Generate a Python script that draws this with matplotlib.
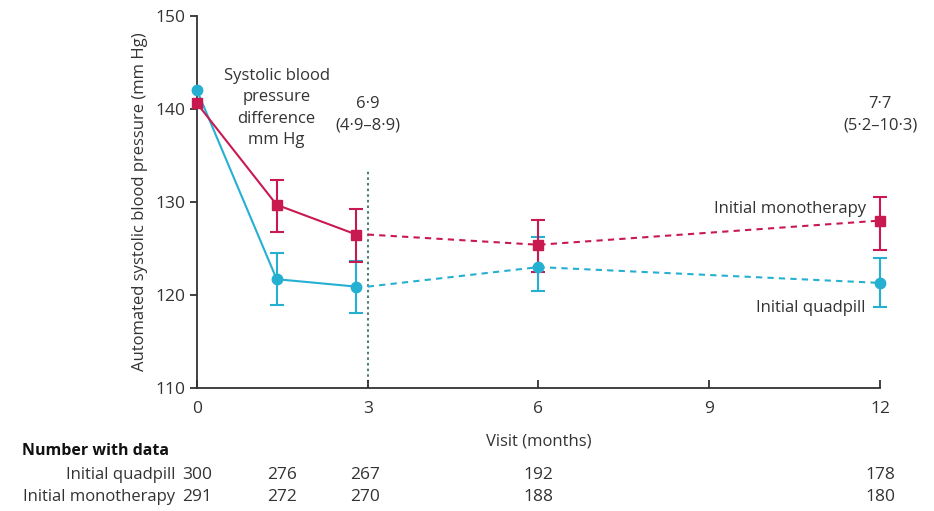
import matplotlib
matplotlib.use("Agg")
import matplotlib.pyplot as plt

plt.rcParams["font.family"] = ["Open Sans", "DejaVu Sans"]

# visit times (months) and values
visit = [0, 1.4, 2.8, 6, 12]
quad_mean = [142.0, 121.7, 120.9, 123.0, 121.3]
quad_lo = [142.0, 118.9, 118.1, 120.4, 118.7]
quad_hi = [142.0, 124.5, 123.7, 126.2, 124.0]
mono_mean = [140.6, 129.7, 126.5, 125.4, 128.0]
mono_lo = [140.6, 126.8, 123.5, 122.5, 124.8]
mono_hi = [140.6, 132.4, 129.2, 128.1, 130.5]

# number with data table
count_x = [0, 1.5, 2.95, 6, 12]
quad_n = [300, 276, 267, 192, 178]
mono_n = [291, 272, 270, 188, 180]

red = "#c81a50"
cyan = "#25b0d2"
txt = "#333333"

fig = plt.figure(figsize=(9.34, 5.11), dpi=100)
ax = fig.add_axes([0.2109, 0.2407, 0.7313, 0.728])


def draw(mean, lo, hi, color, marker, ms):
    yerr = [[m - l for m, l in zip(mean, lo)], [h - m for m, h in zip(mean, hi)]]
    # solid part up to 3 months
    ax.plot(visit[:3], mean[:3], color=color, lw=1.5, zorder=3)
    # dashed continuation from the 3-month line
    ax.plot([3] + visit[3:], [mean[2]] + mean[3:], color=color, lw=1.5,
            ls=(0, (3, 2.5)), zorder=2)
    ax.errorbar(visit[1:], mean[1:], yerr=[yerr[0][1:], yerr[1][1:]], fmt="none",
                ecolor=color, elinewidth=1.5, capsize=5, capthick=1.5, zorder=3)
    ax.plot(visit, mean, ls="none", marker=marker, ms=ms, color=color, zorder=4)


draw(quad_mean, quad_lo, quad_hi, cyan, "o", 7.5)
draw(mono_mean, mono_lo, mono_hi, red, "s", 7.5)

ax.plot([3, 3], [110, 133.5], color="#4d7e80", lw=1.5, ls=(0, (1.2, 1.5)), zorder=1)

ax.set_xlim(0, 12)
ax.set_ylim(110, 150)
ax.set_xticks([0, 3, 6, 9, 12])
ax.set_yticks([110, 120, 130, 140, 150])
ax.spines["top"].set_visible(False)
ax.spines["right"].set_visible(False)
ax.spines["left"].set_color(txt)
ax.spines["bottom"].set_color(txt)
ax.spines["left"].set_linewidth(1.3)
ax.spines["bottom"].set_linewidth(1.3)
ax.tick_params(axis="x", direction="in", length=6, width=1.3, colors=txt,
               labelsize=12.5, pad=9)
ax.tick_params(axis="y", direction="out", length=5, width=1.3, colors=txt,
               labelsize=12.5, pad=3)
for art in ax.lines + ax.collections:
    art.set_clip_on(False)

ax.set_ylabel("Automated systolic blood pressure (mm Hg)", fontsize=12, color=txt,
              labelpad=6)
ax.set_xlabel("Visit (months)", fontsize=12, color=txt, labelpad=12)

ax.text(1.4, 144.4, "Systolic blood\npressure\ndifference\nmm Hg", ha="center",
        va="top", fontsize=12, color=txt, linespacing=1.45)
ax.text(3, 141.4, "6·9\n(4·9–8·9)", ha="center", va="top", fontsize=12,
        color=txt, linespacing=1.45)
ax.text(12, 141.4, "7·7\n(5·2–10·3)", ha="center", va="top", fontsize=12,
        color=txt, linespacing=1.45)
ax.text(11.75, 129.3, "Initial monotherapy", ha="right", va="center",
        fontsize=12, color=txt)
ax.text(11.75, 118.6, "Initial quadpill", ha="right", va="center",
        fontsize=12, color=txt)

tr = ax.get_xaxis_transform()
fig.text(0.0236, 1 - 451 / 511, "Number with data", ha="left", va="center",
         fontsize=11.5, fontweight="bold", color="#111111")
fig.text(0.1875, 1 - 475 / 511, "Initial quadpill", ha="right", va="center",
         fontsize=12, color=txt)
fig.text(0.1875, 1 - 497 / 511, "Initial monotherapy", ha="right", va="center",
         fontsize=12, color=txt)
for x, q, m in zip(count_x, quad_n, mono_n):
    ax.text(x, -0.234, str(q), transform=tr, ha="center", va="center",
            fontsize=12.5, color=txt)
    ax.text(x, -0.293, str(m), transform=tr, ha="center", va="center",
            fontsize=12.5, color=txt)

fig.savefig("out.png", dpi=100)
